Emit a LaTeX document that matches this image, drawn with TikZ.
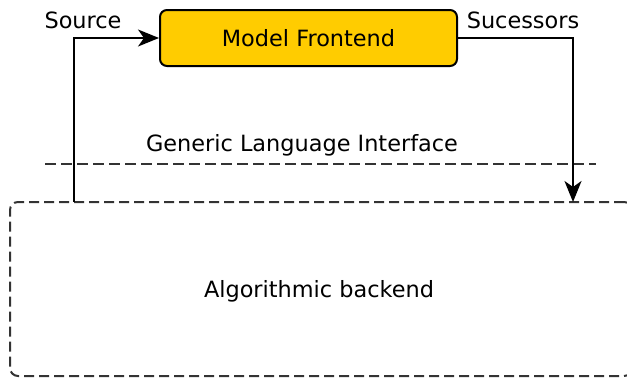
\documentclass[tikz,border=0pt]{standalone}
\usepackage{fontspec}
\setmainfont{DejaVu Sans}
\usetikzlibrary{arrows.meta,positioning}
\definecolor{frontFill}{HTML}{FFCC00}
\definecolor{lineDark}{HTML}{333333}

\begin{document}
\begin{tikzpicture}[
    x=1pt, y=-1pt,
    font=\fontsize{22.4}{27}\selectfont,
    >={Stealth[length=21pt,width=17pt,inset=6pt]},
    frontNode/.style={
        rectangle, rounded corners=7pt,
        draw=black, line width=2pt,
        fill=frontFill,
        minimum width=297pt, minimum height=56pt,
        inner sep=0pt
    },
    backNode/.style={
        rectangle, rounded corners=8pt,
        draw=lineDark, line width=2pt,
        dash pattern=on 10pt off 5pt,
        minimum width=622pt, minimum height=174pt,
        inner sep=0pt
    },
    label/.style={inner sep=0pt, anchor=center},
    flow/.style={->, line width=2pt, draw=black},
    iface/.style={line width=2pt, draw=lineDark, dash pattern=on 11pt off 5pt}
]
\useasboundingbox (0,0) rectangle (627,378);

% frontend on top, backend below the interface line
\node[frontNode] (Frontend) at (308.5,38) {Model Frontend};
\node[backNode] (Backend) at (321,289) {};
\node[label] (BackendLabel) at (319,291) {Algorithmic backend};

\node[label] (SourceLabel) at (83,20) {Source};
\node[label] (SucLabel) at (523,20) {Sucessors};
\node[label] (IfaceLabel) at (302,145) {Generic Language Interface};

\coordinate (IfLeft) at (45,164);
\coordinate (IfRight) at (596,164);
\coordinate (SrcFoot) at (74,202);
\coordinate (SucFoot) at (573,202);

\draw[iface] (IfLeft) -- (IfRight);
\draw[flow] (SrcFoot) |- (Frontend.west);
\draw[flow] (Frontend.east) -| (SucFoot);

\end{tikzpicture}
\end{document}
